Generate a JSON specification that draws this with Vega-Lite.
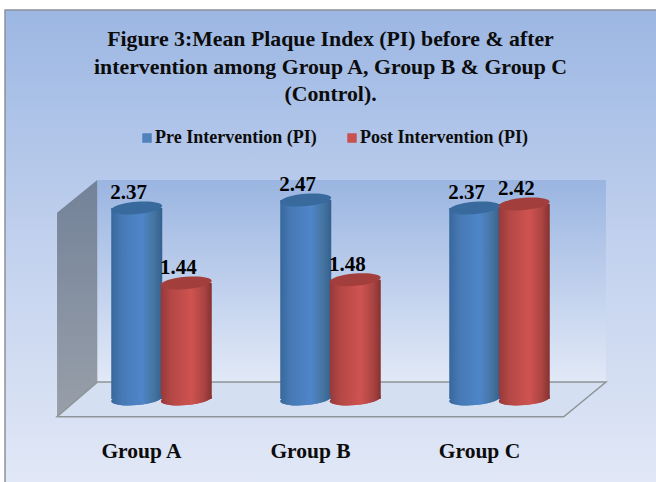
{
"$schema":"https://vega.github.io/schema/vega-lite/v6.json",
"width":507,"height":219,
"autosize":{"type":"none"},
"padding":{"left":77,"right":72,"top":180,"bottom":83},
"background":"#ffffff",
"config":{"view":{"stroke":null},"font":"Liberation Serif"},
"title":{"text":["Figure 3:Mean Plaque Index (PI) before & after","intervention among Group A, Group B & Group C","(Control)."],"font":"Liberation Serif","fontSize":21.8,"fontWeight":"bold","color":"#0c0c0c","lineHeight":27.5,"anchor":"middle","offset":-97,"zindex":1},
"datasets":{
"panel":[{"x":-0.426,"x2":3.6,"y":4.826,"y2":-1.2}],
"back":[{"x":0.12,"x2":3.13,"y":2.717,"y2":0.21}],
"side":[{"x":-0.118,"y":2.31,"y2":-0.22},{"x":0.12,"y":2.717,"y2":0.21}],
"floor":[{"y":-0.22,"x":-0.118,"x2":2.88},{"y":0.21,"x":0.12,"x2":3.13}],
"scores":[
{"group":"Group A","phase":"Pre Intervention (PI)","value":2.37},
{"group":"Group A","phase":"Post Intervention (PI)","value":1.44},
{"group":"Group B","phase":"Pre Intervention (PI)","value":2.47},
{"group":"Group B","phase":"Post Intervention (PI)","value":1.48},
{"group":"Group C","phase":"Pre Intervention (PI)","value":2.37},
{"group":"Group C","phase":"Post Intervention (PI)","value":2.42}
]},
"layer":[
{"layer":[
{"data":{"name":"panel"},"mark":{"type":"rect","stroke":"#8d9199","strokeWidth":1.5,"color":{"gradient":"linear","x1":0,"y1":0,"x2":0,"y2":1,"stops":[{"offset":0,"color":"#9cb7e3"},{"offset":0.5,"color":"#c3d2ee"},{"offset":1,"color":"#e3e9f7"}]}},
 "encoding":{"x":{"field":"x","type":"quantitative","scale":{"domain":[0,3]},"axis":null},"x2":{"field":"x2"},"y":{"field":"y","type":"quantitative","scale":{"domain":[0,2.717],"nice":false,"zero":false},"axis":null},"y2":{"field":"y2"}}},
{"data":{"name":"back"},"mark":{"type":"rect","color":{"gradient":"linear","x1":0,"y1":0,"x2":0,"y2":1,"stops":[{"offset":0,"color":"#9ab5e1"},{"offset":1,"color":"#e2e9f7"}]}},
 "encoding":{"x":{"field":"x","type":"quantitative"},"x2":{"field":"x2"},"y":{"field":"y","type":"quantitative"},"y2":{"field":"y2"}}},
{"data":{"name":"side"},"mark":{"type":"area","color":{"gradient":"linear","x1":0,"y1":0,"x2":0,"y2":1,"stops":[{"offset":0,"color":"#738299"},{"offset":1,"color":"#989fa9"}]}},
 "encoding":{"x":{"field":"x","type":"quantitative"},"y":{"field":"y","type":"quantitative"},"y2":{"field":"y2"}}},
{"data":{"name":"floor"},"mark":{"type":"area","orient":"horizontal","color":"#d5dff2","stroke":"#8d9598","strokeWidth":1.5},
 "encoding":{"y":{"field":"y","type":"quantitative"},"x":{"field":"x","type":"quantitative"},"x2":{"field":"x2"}}}
]},
{"data":{"name":"scores"},
 "encoding":{
  "x":{"field":"group","type":"nominal","scale":{"paddingInner":0.414,"paddingOuter":0.207},"axis":{"orient":"bottom","zindex":1,"title":null,"domain":false,"ticks":false,"labelAngle":0,"labelFont":"Liberation Serif","labelFontSize":21.5,"labelFontWeight":"bold","labelColor":"#0c0c0c","labelPadding":41,"labelOffset":-20}},
  "xOffset":{"field":"phase","type":"nominal","sort":["Pre Intervention (PI)","Post Intervention (PI)"]},
  "y":{"field":"value","type":"quantitative"}
 },
 "layer":[
 {"mark":{"type":"point","filled":true,"opacity":1,"shape":"M-1,0A1,0.24,0,1,1,1,0A1,0.24,0,1,1,-1,0Z","size":2600,"angle":-5},
  "encoding":{"y":{"datum":0,"type":"quantitative"},"color":{"field":"phase","type":"nominal","sort":["Pre Intervention (PI)","Post Intervention (PI)"],"scale":{"domain":["Pre Intervention (PI)","Post Intervention (PI)"],"range":["#4f81bd","#c8504d"]},
   "legend":{"title":null,"orient":"none","legendX":61,"legendY":-51,"direction":"horizontal","columns":2,"symbolType":"square","symbolSize":90,"symbolOpacity":1,"labelFont":"Liberation Serif","labelFontSize":18,"labelFontWeight":"bold","labelColor":"#0c0c0c","labelLimit":250,"columnPadding":26,"symbolStrokeWidth":0,"labelOffset":-1}}}},
 {"transform":[{"filter":"datum.phase==='Pre Intervention (PI)'"}],"mark":{"type":"bar","width":51,"color":{"gradient":"linear","x1":0,"y1":0,"x2":1,"y2":0,"stops":[{"offset":0,"color":"#37679c"},{"offset":0.2,"color":"#4679b4"},{"offset":0.6,"color":"#4f86ca"},{"offset":0.85,"color":"#44739f"},{"offset":1,"color":"#34608f"}]}}},
 {"transform":[{"filter":"datum.phase==='Post Intervention (PI)'"}],"mark":{"type":"bar","width":51,"color":{"gradient":"linear","x1":0,"y1":0,"x2":1,"y2":0,"stops":[{"offset":0,"color":"#95393a"},{"offset":0.2,"color":"#b34745"},{"offset":0.6,"color":"#cf5350"},{"offset":0.85,"color":"#aa4442"},{"offset":1,"color":"#853230"}]}}},
 {"transform":[{"filter":"datum.phase==='Pre Intervention (PI)'"}],"mark":{"type":"point","filled":true,"opacity":1,"shape":"M-1,0A1,0.24,0,1,1,1,0A1,0.24,0,1,1,-1,0Z","size":2600,"angle":-5,"color":{"gradient":"linear","x1":0,"y1":0,"x2":1,"y2":0,"stops":[{"offset":0,"color":"#37679c"},{"offset":0.2,"color":"#4679b4"},{"offset":0.6,"color":"#4f86ca"},{"offset":0.85,"color":"#44739f"},{"offset":1,"color":"#34608f"}]}},"encoding":{"y":{"datum":0,"type":"quantitative"}}},
 {"transform":[{"filter":"datum.phase==='Post Intervention (PI)'"}],"mark":{"type":"point","filled":true,"opacity":1,"shape":"M-1,0A1,0.24,0,1,1,1,0A1,0.24,0,1,1,-1,0Z","size":2600,"angle":-5,"color":{"gradient":"linear","x1":0,"y1":0,"x2":1,"y2":0,"stops":[{"offset":0,"color":"#95393a"},{"offset":0.2,"color":"#b34745"},{"offset":0.6,"color":"#cf5350"},{"offset":0.85,"color":"#aa4442"},{"offset":1,"color":"#853230"}]}},"encoding":{"y":{"datum":0,"type":"quantitative"}}},
 {"transform":[{"filter":"datum.phase==='Pre Intervention (PI)'"}],"mark":{"type":"point","filled":true,"opacity":1,"shape":"M-1,0A1,0.24,0,1,1,1,0A1,0.24,0,1,1,-1,0Z","size":2600,"angle":-5,"color":"#386a9e"}},
 {"transform":[{"filter":"datum.phase==='Post Intervention (PI)'"}],"mark":{"type":"point","filled":true,"opacity":1,"shape":"M-1,0A1,0.24,0,1,1,1,0A1,0.24,0,1,1,-1,0Z","size":2600,"angle":-5,"color":"#a23f3d"}},
 {"mark":{"type":"text","font":"Liberation Serif","fontSize":21,"fontWeight":"bold","color":"#000000","dx":-8,"dy":-15,"baseline":"middle","align":"center"},"encoding":{"text":{"field":"value","type":"quantitative","format":".2f"}}}
 ]}
],
"resolve":{"scale":{"x":"independent"},"axis":{"x":"independent"}}
}
